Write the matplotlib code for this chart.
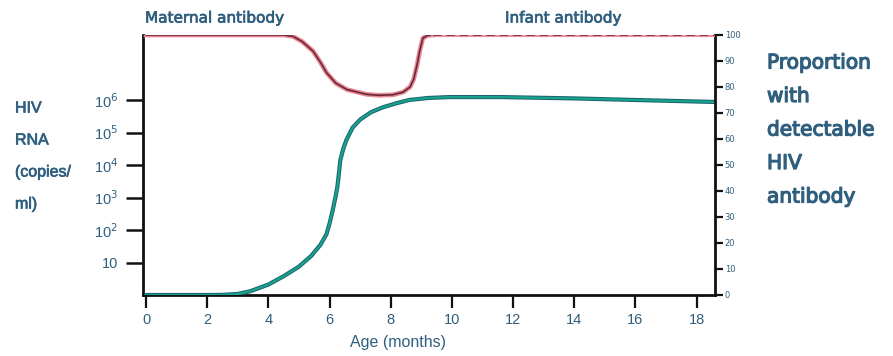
import matplotlib
matplotlib.use("Agg")
import matplotlib.pyplot as plt
import matplotlib.patheffects as pe
from matplotlib.ticker import FixedLocator, NullLocator

# HIV RNA (copies/ml) by age in months
rna_months = [0, 1, 2, 2.5, 3, 3.4, 4, 4.5, 5, 5.4, 5.7, 5.9, 6.0, 6.1, 6.18,
              6.25, 6.3, 6.35, 6.45, 6.55, 6.75, 7.0, 7.35, 7.75, 8.2, 8.6,
              9.2, 9.9, 11.6, 14, 16, 18.6]
rna_copies = [1, 1, 1, 1.01, 1.08, 1.3, 2.1, 3.8, 7.5, 16, 35, 75, 160, 400,
              900, 2000, 5000, 1.4e4, 3.2e4, 5.9e4, 1.4e5, 2.5e5, 4.2e5, 6e5,
              8e5, 1e6, 1.15e6, 1.23e6, 1.23e6, 1.12e6, 1e6, 8.7e5]

# Proportion with detectable antibody (%): maternal then infant
mat_months = [0, 4.5, 4.8, 5.1, 5.46, 5.7, 5.9, 6.2, 6.57, 7.2, 7.6, 8.07,
              8.4, 8.63, 8.75, 8.86, 8.95, 9.05, 9.2, 9.38]
mat_prop = [100, 100, 99.5, 97.5, 93.8, 89.5, 85.5, 81.5, 79.0, 77.2, 76.8,
            77.0, 78.0, 80.0, 83, 88.5, 94, 98.8, 99.8, 100]
inf_months = [9.38, 18.6]
inf_prop = [100, 100]

x_ticks = [0, 2, 4, 6, 8, 10, 12, 14, 16, 18]
rna_ticks = [10, 1e2, 1e3, 1e4, 1e5, 1e6]
rna_labels = ["10", "10$^{2}$", "10$^{3}$", "10$^{4}$", "10$^{5}$", "10$^{6}$"]
prop_ticks = [0, 10, 20, 30, 40, 50, 60, 70, 80, 90, 100]

TXT = "#2f5f7e"
NARROW = "Liberation Sans"
HEAD = "DejaVu Sans"
heavy = [pe.withStroke(linewidth=0.9, foreground=TXT)]
medium = [pe.withStroke(linewidth=0.5, foreground=TXT)]

W, H = 893, 356
fig = plt.figure(figsize=(W / 100, H / 100), dpi=100)
ax = fig.add_axes([143 / W, 1 - 295 / H, (715 - 143) / W, (295 - 35) / H])
ax2 = ax.twinx()

for a in (ax, ax2):
    for s in a.spines.values():
        s.set_visible(False)
    a.patch.set_visible(False)
ax.spines["left"].set_visible(True)
ax.spines["bottom"].set_visible(True)
ax2.spines["right"].set_visible(True)
for s in (ax.spines["left"], ax.spines["bottom"], ax2.spines["right"]):
    s.set_linewidth(2.0)
    s.set_color("#111111")

ax.set_xlim(-0.1, 18.6)
ax.set_yscale("log")
ax.set_ylim(1, 1e8)
ax2.set_ylim(0, 100)

ax.xaxis.set_major_locator(FixedLocator(x_ticks))
ax.set_xticklabels([str(t) for t in x_ticks], family=NARROW)
ax.yaxis.set_major_locator(FixedLocator(rna_ticks))
ax.yaxis.set_minor_locator(NullLocator())
ax.set_yticklabels(rna_labels, family=NARROW)
ax2.yaxis.set_major_locator(FixedLocator(prop_ticks))
ax2.set_yticklabels([str(t) for t in prop_ticks])

ax.tick_params(axis="x", direction="out", length=9, width=1.6, color="#111111",
               labelsize=10.5, labelcolor=TXT, pad=4)
ax.tick_params(axis="y", direction="out", length=12, width=1.8, color="#111111",
               labelsize=10.5, labelcolor=TXT, pad=6)
ax2.tick_params(axis="y", direction="out", length=6, width=1.6, color="#111111",
                labelsize=6, labelcolor=TXT, pad=1)

# HIV RNA curve
ax.plot(rna_months, rna_copies, color="#17a58a", lw=1.5, solid_capstyle="round",
        path_effects=[pe.Stroke(linewidth=3.0, foreground="#1d6374"), pe.Normal()],
        zorder=3)

# antibody curve
ax2.plot(mat_months, mat_prop, color="#6b2636", lw=1.2,
         path_effects=[pe.Stroke(linewidth=3.4, foreground="#e88a96"), pe.Normal()],
         zorder=4)
ax2.plot(inf_months, inf_prop, color="#ec8e98", lw=3.0, zorder=4)
ax2.plot(inf_months, inf_prop, color="#7a2a3c", lw=1.2, dashes=(5, 3), zorder=5)

fig.text(145 / W, 1 - 18 / H, "Maternal antibody", color=TXT, fontsize=11,
         va="center", ha="left", family=HEAD, path_effects=medium)
fig.text(505 / W, 1 - 18 / H, "Infant antibody", color=TXT, fontsize=11,
         va="center", ha="left", family=HEAD, path_effects=medium)

for i, word in enumerate(["Proportion", "with", "detectable", "HIV", "antibody"]):
    fig.text(767 / W, 1 - (63 + i * 33.5) / H, word, color=TXT, fontsize=14.5,
             va="center", ha="left", family=HEAD, path_effects=heavy)

for i, word in enumerate(["HIV", "RNA", "(copies/", "ml)"]):
    fig.text(15 / W, 1 - (108 + i * 32) / H, word, color=TXT, fontsize=11.5,
             va="center", ha="left", family=NARROW, path_effects=medium)

fig.text(398 / W, 1 - 342 / H, "Age (months)", color=TXT, fontsize=11.5,
         va="center", ha="center", family=NARROW)

fig.savefig("out.png", dpi=100)
